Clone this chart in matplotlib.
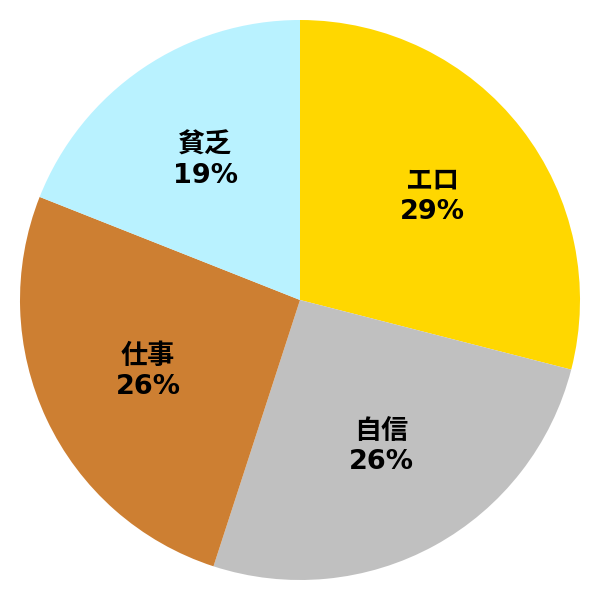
import matplotlib.pyplot as plt
import numpy as np

labels = ["エロ", "自信", "仕事", "貧乏"]
values = [29, 26, 26, 19]
colors = ["#FFD700", "#C0C0C0", "#CD7F32", "#B9F2FF"]

plt.rcParams['font.family'] = ['DejaVu Sans', 'Noto Sans CJK JP']

fig = plt.figure(figsize=(6, 6), dpi=100)
ax = fig.add_axes([0, 0, 1, 1])

wedges, texts = ax.pie(values, colors=colors, startangle=90, counterclock=False,
                       radius=1.0, wedgeprops=dict(linewidth=0))

total = sum(values)
theta = 90.0
for lab, v in zip(labels, values):
    span = 360.0 * v / total
    mid = np.deg2rad(theta - span / 2)
    x, y = 0.6 * np.cos(mid), 0.6 * np.sin(mid)
    ax.text(x, y, "%s\n%d%%" % (lab, round(100.0 * v / total)), ha='center', va='center',
            fontsize=19.5, fontweight='bold', linespacing=1.2)
    theta -= span

lim = 300 / 280
ax.set_xlim(-lim, lim)
ax.set_ylim(-lim, lim)
ax.set_aspect('equal')
ax.axis('off')

fig.savefig("out.png", dpi=100, facecolor='white')
